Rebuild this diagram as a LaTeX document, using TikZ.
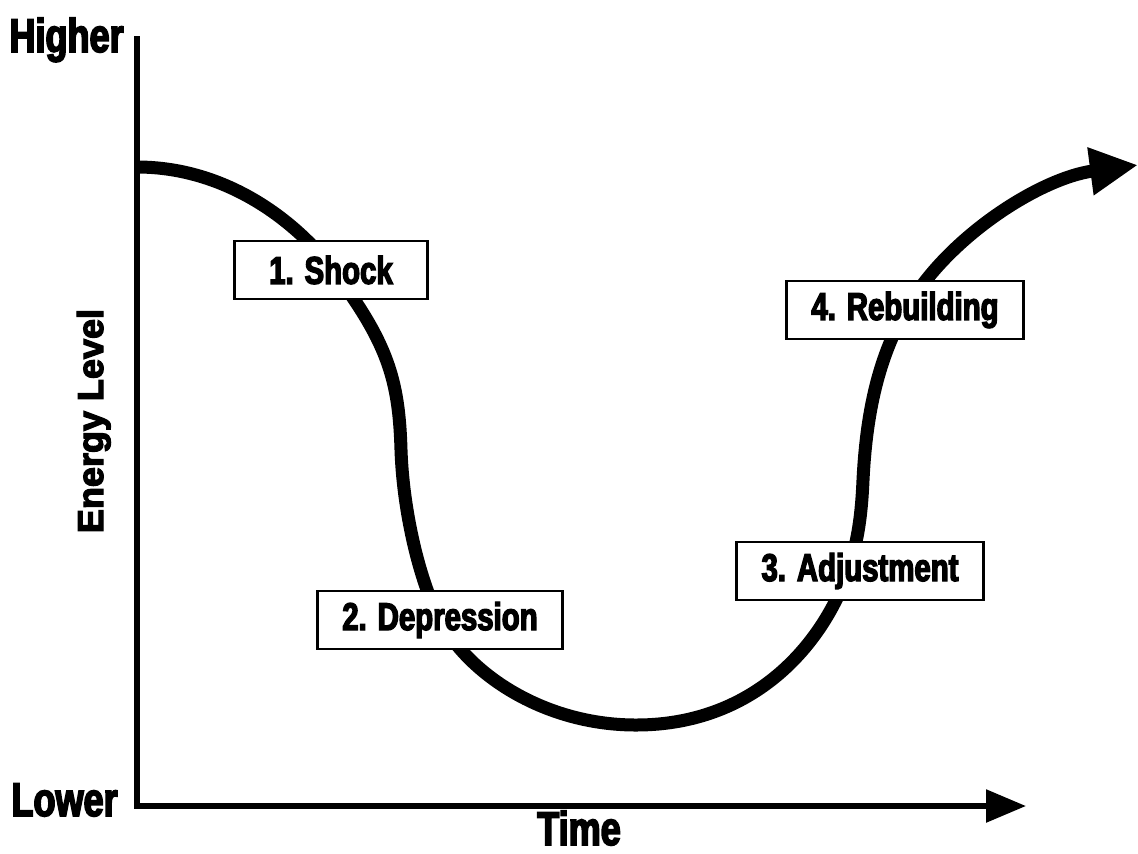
\documentclass[tikz,border=0pt]{standalone}
\usepackage{fontspec}
\setmainfont{Liberation Sans}
\newfontfamily\narrowfont[FakeStretch=0.76,BoldFeatures={FakeBold=3.5}]{Liberation Sans}
\newfontfamily\widefont[BoldFeatures={FakeBold=3.5}]{Liberation Sans}
\usetikzlibrary{arrows.meta}
\tikzset{
    stage box/.style={
        draw,line width=1.6pt,
        fill=white,
        inner xsep=.5cm,minimum height=1.16cm,
        font=\narrowfont\bfseries\fontsize{22}{26}\selectfont
    },
    axis label/.style={inner sep=0pt,font=\narrowfont\bfseries\fontsize{27}{30}\selectfont},
    axis title/.style={inner sep=0pt,font=\widefont\bfseries\fontsize{20.5}{24}\selectfont},
    axis line/.style={line width=3.2pt,line join=miter,-{Triangle[length=.8cm,width=.64cm]}},
    energy curve/.style={line width=7.4pt,-{Triangle[length=.96cm,width=.9cm]}},
}

\begin{document}
\begin{tikzpicture}[x=0.02cm,y=-0.02cm]
		\useasboundingbox[fill=white] (0,0) rectangle (1138,853);
		% axes
		\coordinate (top) at (137,36);
		\coordinate (origin) at (137,806);
		\coordinate (right) at (1026,806);
		\draw[axis line] (top) -- (origin) -- (right);
		\node[axis label,anchor=base east] (higher) at (124,52) {Higher};
		\node[axis label,anchor=base east] (lower) at (118,816) {Lower};
		\node[axis label,anchor=base] (time) at (579,845) {Time};
		\node[axis title,rotate=90,anchor=base] (energy) at (103,421) {Energy Level};

		% the curve
		\coordinate (start) at (137,167);
		\coordinate (c1) at (333,270);
		\coordinate (c2) at (401,450);
		\coordinate (c3) at (440,620);
		\coordinate (low) at (636,725);
		\coordinate (c5) at (848,571);
		\coordinate (c6) at (863,480);
		\coordinate (c7) at (906,310);
		\coordinate (tip) at (1138,165);
		\draw[energy curve] (start) .. controls +(90,0) and +(-36,-48) .. (c1)
			.. controls +(55,73) and +(-2,-70) .. (c2)
			.. controls +(2,60) and +(-21,-40) .. (c3)
			.. controls +(30,56) and +(-90,0) .. (low)
			.. controls +(124,0) and +(-22,66) .. (c5)
			.. controls +(10,-30) and +(-1.5,35) .. (c6)
			.. controls +(3,-60) and +(-30,52) .. (c7)
			.. controls +(40,-72) and +(-98,13) .. (tip);

		% stages
		\node[stage box,minimum width=3.86cm] (shock) at (331,270) {1. Shock};
		\node[stage box] (depression) at (440,620) {2. Depression};
		\node[stage box] (adjustment) at (860,571) {3. Adjustment};
		\node[stage box] (rebuilding) at (905,310) {4. Rebuilding};
	\end{tikzpicture}
\end{document}
